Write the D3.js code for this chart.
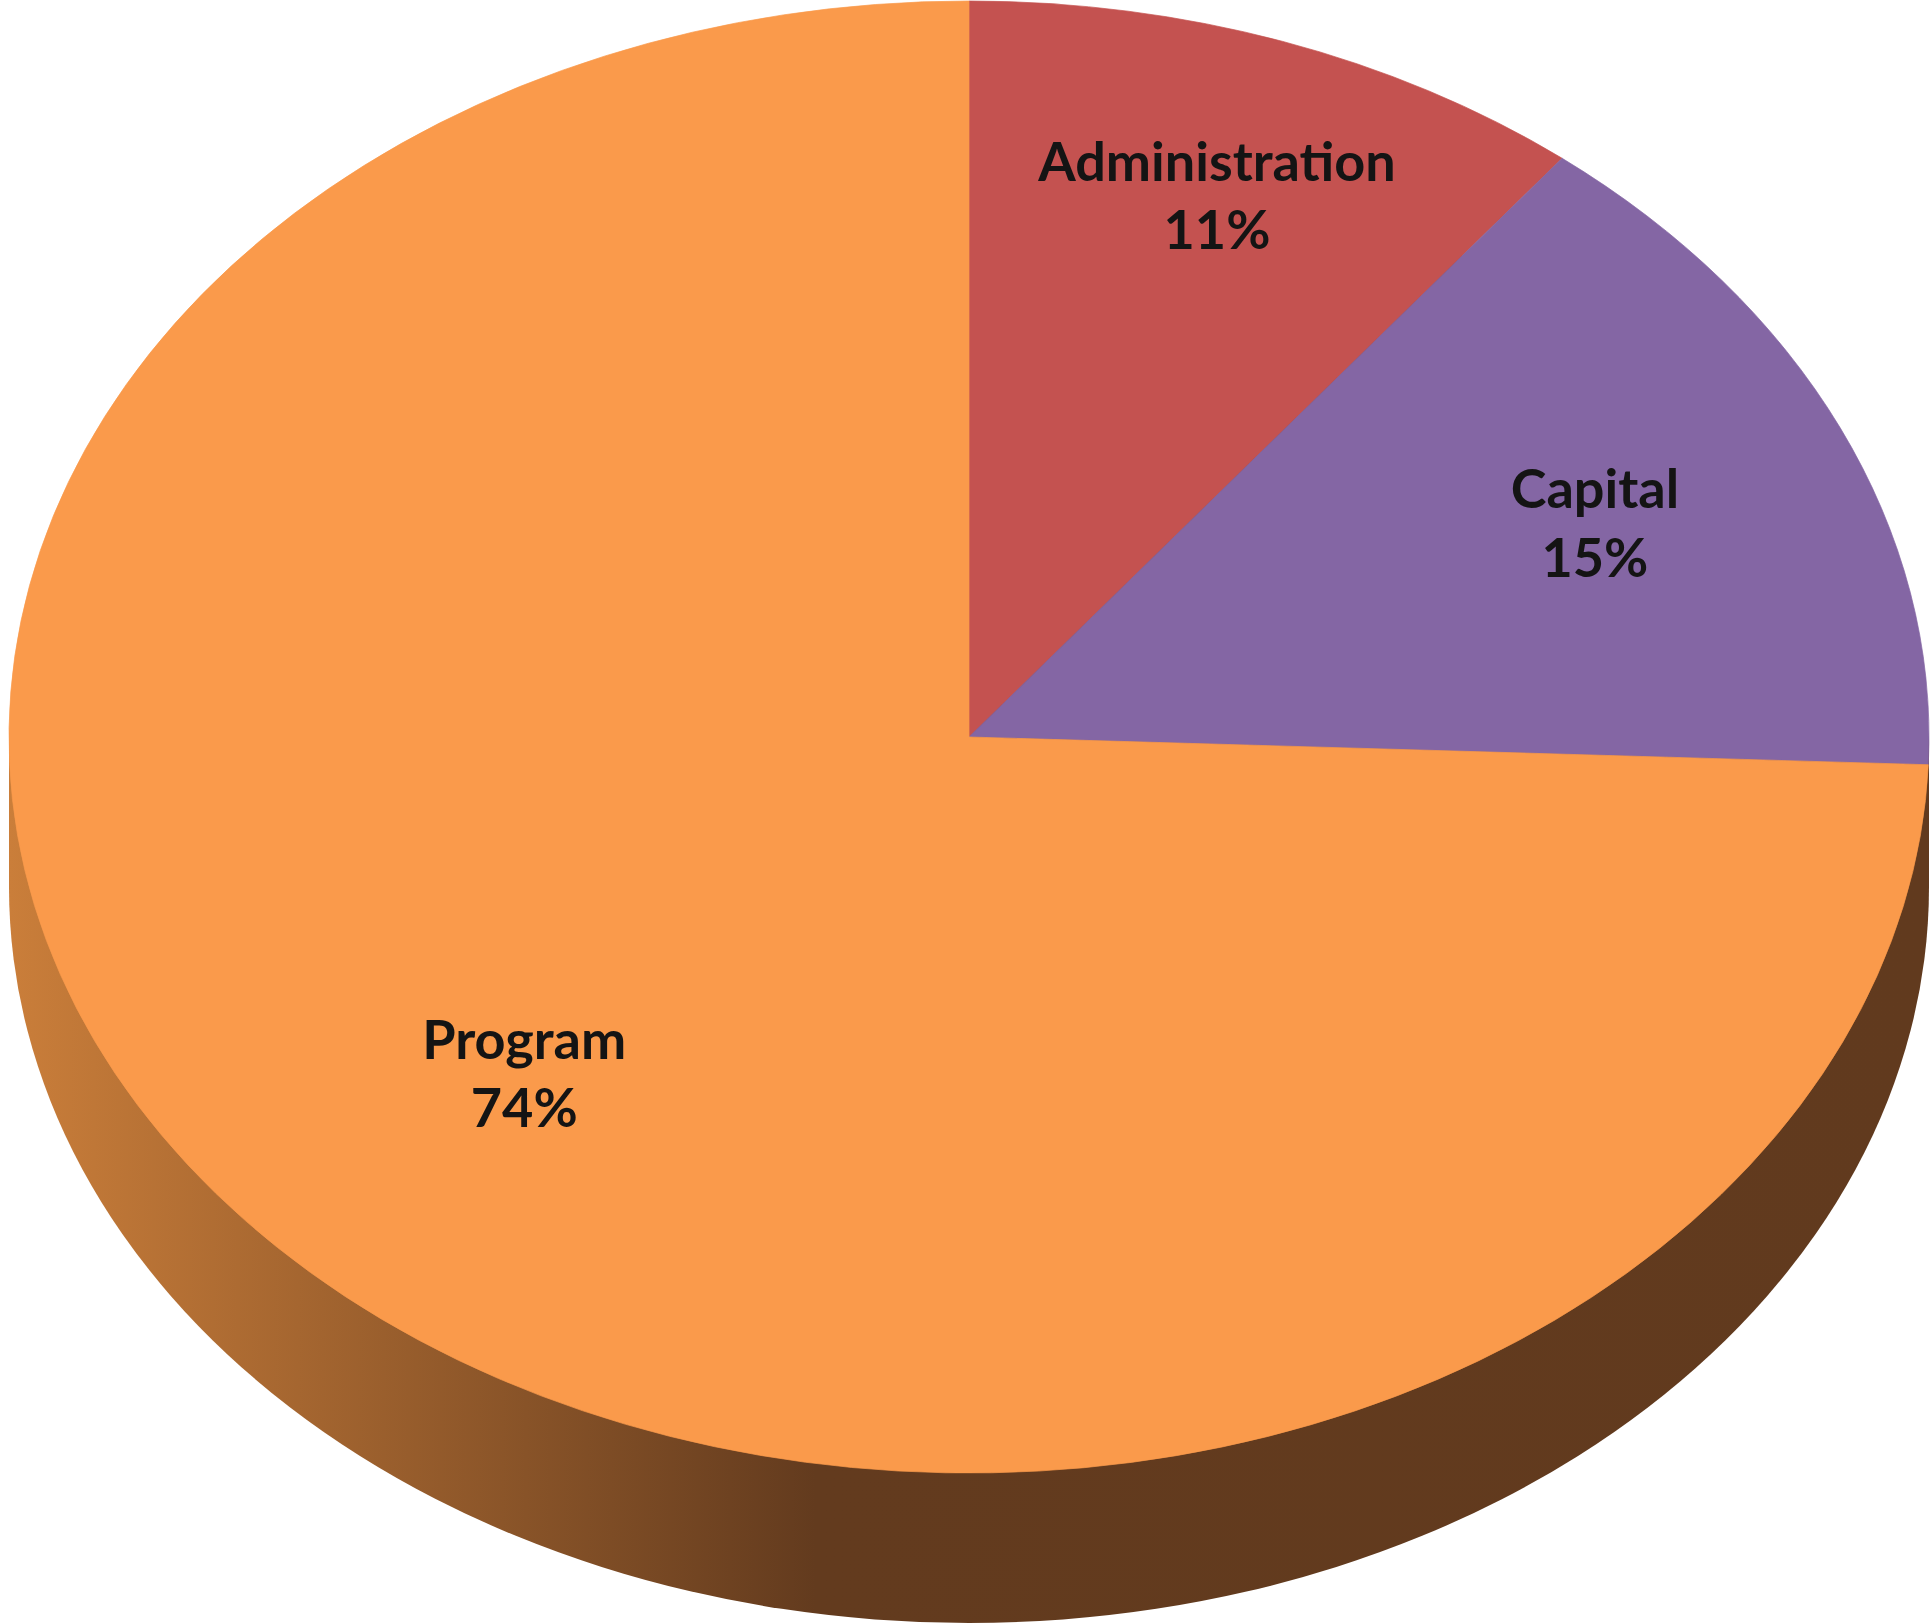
<!DOCTYPE html>
<html>
<head>
<meta charset="utf-8">
<script src="https://cdn.jsdelivr.net/npm/d3@7"></script>
<style>
    body { margin: 0; background: #fff; }
</style>
</head>
<body>
<div id="chart"></div>
<script>
// slice shares (labels show rounded values)
const categories = ["Administration", "Capital", "Program"];
const shares = [10.6, 15.0, 74.4];
const sliceColors = ["#C45250", "#8466A4", "#FA9A4B"];

const width = 1932, height = 1623;
const cx = 969, cy = 737;
const rx = 960, ry = 736;
const depth = 150;
const k = ry / rx;

// labels at the back sit further out than the ones at the front (tilted view)
const labelRadius = a => 0.698 + 0.107 * Math.cos(a) - 0.027 * Math.sin(a);

const svg = d3.select("#chart")
    .append("svg")
    .attr("width", width)
    .attr("height", height);

const defs = svg.append("defs");
const grad = defs.append("linearGradient")
    .attr("id", "sideGrad")
    .attr("x1", 0).attr("x2", 1)
    .attr("y1", 0).attr("y2", 0);
grad.append("stop").attr("offset", 0).attr("stop-color", "#CA7E3A");
grad.append("stop").attr("offset", 0.42).attr("stop-color", "#633B1E");
grad.append("stop").attr("offset", 1).attr("stop-color", "#613A1E");

const pie = d3.pie().sort(null).value(d => d.value);
const data = pie(categories.map((c, i) => ({ name: c, value: shares[i], color: sliceColors[i] })));

const arc = d3.arc().innerRadius(0).outerRadius(rx);

// side wall: bottom ellipse + band between the two ellipses
svg.append("rect")
    .attr("x", cx - rx)
    .attr("y", cy)
    .attr("width", 2 * rx)
    .attr("height", depth)
    .attr("fill", "url(#sideGrad)");

svg.append("g")
    .attr("transform", `translate(${cx}, ${cy + depth}) scale(1, ${k})`)
    .append("path")
    .attr("d", arc({ startAngle: 0, endAngle: 2 * Math.PI }))
    .attr("fill", "url(#sideGrad)");

// top face
const topFace = svg.append("g")
    .attr("transform", `translate(${cx}, ${cy}) scale(1, ${k})`);

topFace.selectAll("path.slice")
    .data(data)
    .join("path")
    .attr("class", "slice")
    .attr("d", arc)
    .attr("fill", d => d.data.color)
    .attr("stroke", d => d.data.color)
    .attr("stroke-width", 0.8);

// labels
const labels = svg.append("g")
    .style("font-family", "Lato, 'Open Sans', sans-serif")
    .style("font-weight", "bold")
    .style("font-size", "54px")
    .attr("fill", "#141414")
    .attr("text-anchor", "middle");

for(const d of data)
{
    const a = (d.startAngle + d.endAngle) / 2;
    const r = labelRadius(a);
    const x = cx + rx * r * Math.sin(a);
    const y = cy - ry * r * Math.cos(a);

    const t = labels.append("text")
        .attr("x", x)
        .attr("y", y);
    t.append("tspan")
        .attr("x", x)
        .attr("dy", "-0.12em")
        .text(d.data.name);
    t.append("tspan")
        .attr("x", x)
        .attr("dy", "1.27em")
        .text(Math.round(d.data.value) + "%");
}
</script>
</body>
</html>
